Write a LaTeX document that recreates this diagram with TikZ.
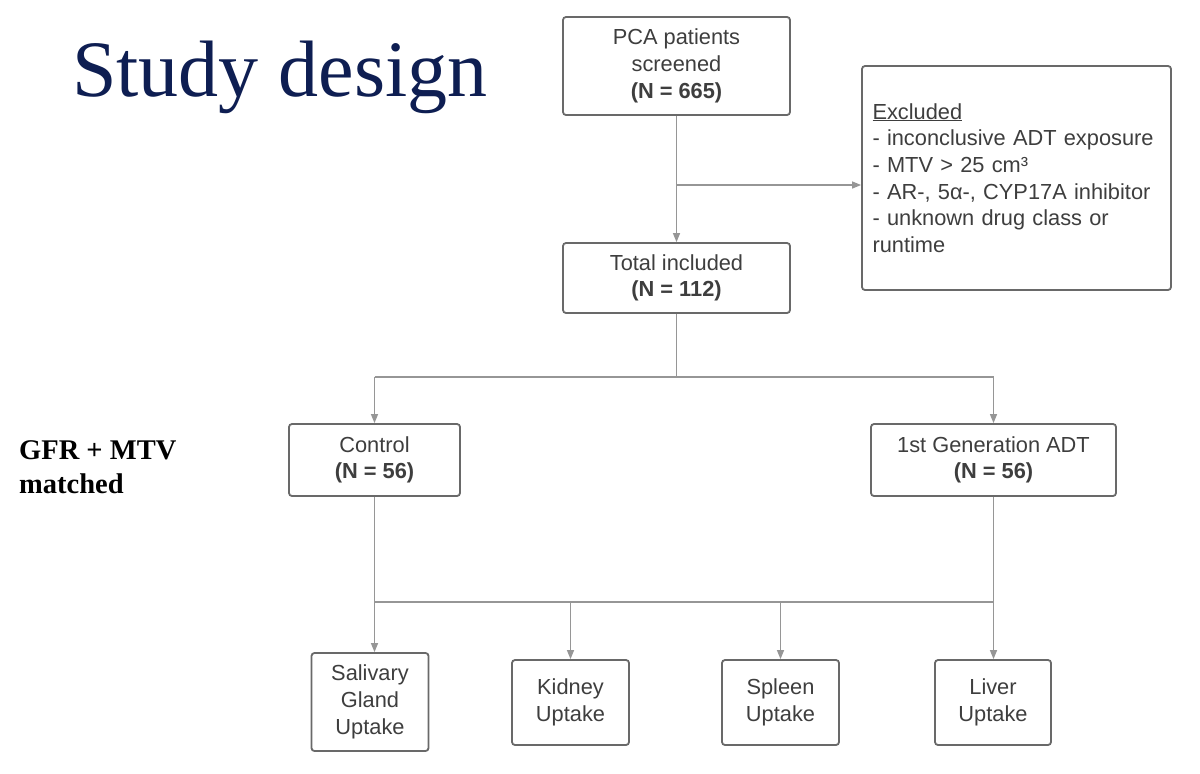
\documentclass[tikz,border=0pt]{standalone}
\usepackage{fontspec}
\setmainfont{Liberation Sans}
\newfontfamily\titlefont{Liberation Serif}
\usetikzlibrary{arrows.meta,calc}
\definecolor{navy}{RGB}{14,30,82}
\definecolor{txt}{RGB}{62,62,62}
\definecolor{boxline}{RGB}{105,105,105}
\definecolor{connline}{RGB}{150,150,150}
\begin{document}
\begin{tikzpicture}[x=1pt,y=-1pt,
  box/.style={draw=boxline,line width=1.8pt,rounded corners=3pt,inner sep=0pt,
    align=center,text=txt,font=\fontsize{21.8}{26.7}\selectfont},
  conn/.style={draw=connline,line width=1.2pt},
  arr/.style={conn,-{Triangle[length=9pt,width=7pt]}}]
\useasboundingbox[fill=white] (0,0) rectangle (1200,774);

\node[anchor=base west,text=navy,font=\titlefont\fontsize{80}{90}\selectfont,inner sep=0pt] (title) at (72,96) {Study design};
\node[anchor=north west,align=left,font=\titlefont\bfseries\fontsize{28.5}{34}\selectfont,inner sep=0pt,text=black] (gfr) at (19,440) {GFR + MTV\\matched};

\node[box,minimum width=227pt,minimum height=98pt] (pca) at (676.5,66) {PCA patients\\screened\\\textbf{(N = 665)}};
\node[box,minimum width=309pt,minimum height=224pt,text width=288pt,align=left] (ex) at (1016.5,178)
  {\underline{Excluded}\\- inconclusive ADT exposure\\- MTV > 25 cm³\\- AR-, 5α-, CYP17A inhibitor\\- unknown drug class or\\runtime};
\node[box,minimum width=227pt,minimum height=70pt] (tot) at (676.5,278) {Total included\\\textbf{(N = 112)}};
\node[box,minimum width=171pt,minimum height=72pt] (ctl) at (374.5,460) {Control\\\textbf{(N = 56)}};
\node[box,minimum width=245pt,minimum height=72pt] (adt) at (993.5,460) {1st Generation ADT\\\textbf{(N = 56)}};
\node[box,minimum width=117pt,minimum height=98pt] (sal) at (370,702) {Salivary\\Gland\\Uptake};
\node[box,minimum width=117pt,minimum height=85pt] (kid) at (570.5,702.5) {Kidney\\Uptake};
\node[box,minimum width=117pt,minimum height=85pt] (spl) at (780.5,702.5) {Spleen\\Uptake};
\node[box,minimum width=116pt,minimum height=85pt] (liv) at (993,702.5) {Liver\\Uptake};

% screening -> included, with exclusion branch
\draw[arr] (pca.south) -- (tot.north);
\coordinate (b1) at ($(pca.south)!0.5!(tot.north)+(0,6)$);
\draw[arr] (b1) -- (b1 -| ex.west);

% included -> two groups
\coordinate (j1) at (676.5,377);
\draw[conn] (tot.south) -- (j1);
\draw[conn] (j1 -| ctl.north) -- (j1 -| adt.north);
\draw[arr] (j1 -| ctl.north) -- (ctl.north);
\draw[arr] (j1 -| adt.north) -- (adt.north);

% groups -> uptake
\coordinate (j2) at (676,602);
\draw[conn] (ctl.south) -- (j2 -| ctl.south);
\draw[conn] (adt.south) -- (j2 -| adt.south);
\draw[conn] (j2 -| ctl.south) -- (j2 -| adt.south);
\draw[arr] (j2 -| ctl.south) -- (ctl.south |- sal.north);
\draw[arr] (j2 -| kid.north) -- (kid.north);
\draw[arr] (j2 -| spl.north) -- (spl.north);
\draw[arr] (j2 -| adt.south) -- (adt.south |- liv.north);
\end{tikzpicture}
\end{document}
